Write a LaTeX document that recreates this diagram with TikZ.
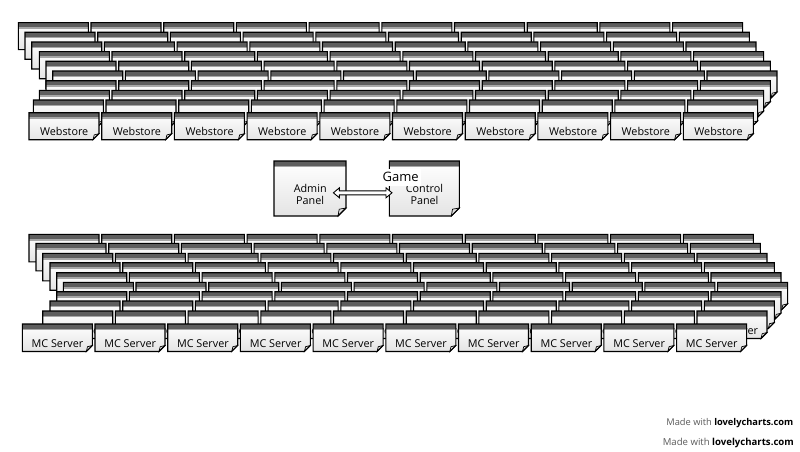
\documentclass[tikz,border=0pt]{standalone}
\usepackage{fontspec}
\setmainfont{Open Sans}
\usetikzlibrary{calc}
\definecolor{hdr}{HTML}{5E5E5E}
\definecolor{hdrlite}{HTML}{A6A6A6}
\definecolor{bodybot}{HTML}{E4E4E4}
\definecolor{foldc}{HTML}{E0E0E0}
\definecolor{wmgray}{HTML}{5A5A5A}
\tikzset{
  cardline/.style={draw=black, line width=1.1pt, line join=miter},
  foldst/.style={fill=foldc, draw=black, line width=0.7pt},
  cardtxt/.style={anchor=north west, inner sep=0pt, align=center,
    font=\fontsize{10.8}{12.3}\selectfont},
  gamelbl/.style={fill=white, inner xsep=2pt, inner ysep=3.6pt,
    font=\fontsize{13}{15}\selectfont},
  wmark/.style={anchor=east, inner sep=0pt, text=wmgray},
  dblarrow/.style={fill=white, draw=black, line width=0.9pt, line join=miter},
}
% #1 name, #2 x, #3 y (top-left), #4 width, #5 height, #6 text, #7 fold size
\newcommand{\mkcard}[7]{%
  \shade[top color=white, bottom color=bodybot]
    (#2,#3) -- (#2+#4,#3) -- (#2+#4,#3+#5-#7) -- (#2+#4-#7,#3+#5) -- (#2,#3+#5) -- cycle;
  \fill[hdr] (#2,#3) rectangle (#2+#4,#3+4.6);
  \fill[hdrlite] (#2,#3+4.6) rectangle (#2+#4,#3+6.2);
  \node[cardtxt, minimum width=#4, minimum height=#5-1] (#1) at (#2,#3+6) {#6};
  \filldraw[foldst] (#2+#4,#3+#5-#7) -- (#2+#4-#7+1.2,#3+#5-#7+1.2) -- (#2+#4-#7,#3+#5) -- cycle;
  \draw[cardline] (#2,#3) -- (#2+#4,#3) -- (#2+#4,#3+#5-#7) -- (#2+#4-#7,#3+#5) -- (#2,#3+#5) -- cycle;
}
\begin{document}
\begin{tikzpicture}[x=1pt, y=-1pt]
\useasboundingbox (0,0) rectangle (800,452);
\fill[white] (0,0) rectangle (800,452);

% upper stack: Webstore
\foreach \dx/\yy [count=\r] in {18.3/22.7, 25/32.3, 31.7/42, 39.3/51.7, 46/61.3,
    52.7/71, 46/80.7, 39.3/90.3, 33.3/100, 29/112.7} {
  \foreach \c in {0,...,9} {
    \mkcard{ws-\r-\c}{\dx+72.7*\c}{\yy}{70}{27}{Webstore}{6}
  }
}

% lower stack: MC Server
\foreach \dx/\yy [count=\r] in {29/234.3, 36/243.3, 42.7/253.3, 50/262.7, 56.7/272.7,
    63.3/282.3, 56.7/291.7, 50/301, 42.7/311, 22.3/324} {
  \foreach \c in {0,...,9} {
    \mkcard{mc-\r-\c}{\dx+72.7*\c}{\yy}{70}{27.5}{MC Server}{6}
  }
}

% central cards
\mkcard{admin}{274}{161}{72}{55}{Admin\\Panel}{8}
\mkcard{gcp}{389.3}{161}{70}{55}{Control\\Panel}{8}

% double-headed connector
\coordinate (a1) at ($(admin.east)+(-13,-1.4)$);
\coordinate (a2) at ($(gcp.west)+(2.7,-1.4)$);
\filldraw[dblarrow] (a1) -- ($(a1)+(6,-5)$) -- ($(a1)+(6,-2)$) -- ($(a2)+(-6,-2)$)
  -- ($(a2)+(-6,-5)$) -- (a2) -- ($(a2)+(-6,5)$) -- ($(a2)+(-6,2)$)
  -- ($(a1)+(6,2)$) -- ($(a1)+(6,5)$) -- cycle;

\node[gamelbl] (game) at (400.6,177.2) {Game};

% watermark
\node[wmark, font=\fontsize{9.3}{11}\selectfont] (wm1) at (793.5,423.3)
  {Made with \textcolor{black}{\bfseries lovelycharts.com}};
\node[wmark, font=\fontsize{9.6}{11}\selectfont] (wm2) at (794,443.3)
  {Made with \textcolor{black}{\bfseries lovelycharts.com}};
\end{tikzpicture}
\end{document}
